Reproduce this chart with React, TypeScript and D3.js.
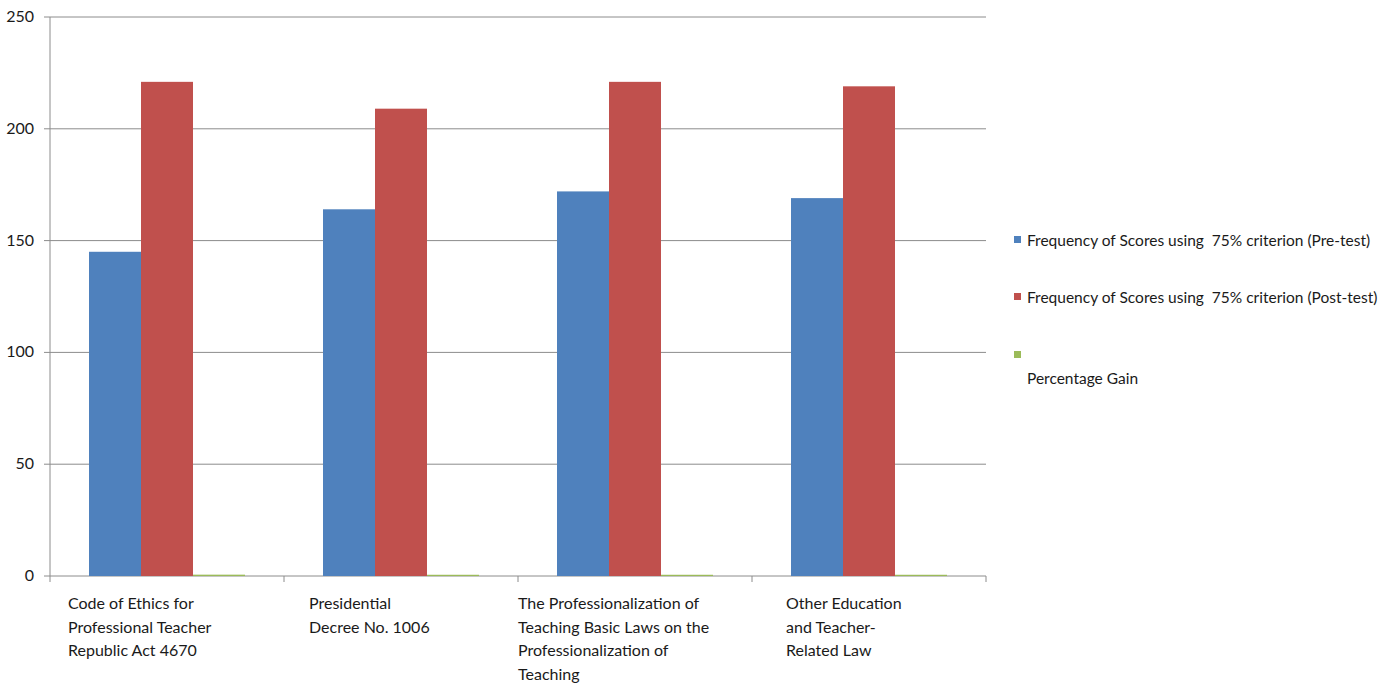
import React from "react";
import * as d3 from "d3";

const categories = [
  ["Code of Ethics for", "Professional Teacher", "Republic Act 4670"],
  ["Presidential", "Decree No. 1006"],
  ["The Professionalization of", "Teaching Basic Laws on the", "Professionalization of", "Teaching"],
  ["Other Education", "and Teacher-", "Related Law"],
];
const preTest = [145, 164, 172, 169];
const postTest = [221, 209, 221, 219];
const percentageGain = [0.6, 0.55, 0.55, 0.55];
const seriesNames = [
  "Frequency of Scores using  75% criterion (Pre-test)",
  "Frequency of Scores using  75% criterion (Post-test)",
  "Percentage Gain",
];
const yTicks = [0, 50, 100, 150, 200, 250];

const colors = ["#4F81BD", "#C0504D", "#9BBB59"];
const labelOffsets = [18, 25, 0, 34];
const FONT = "Lato, 'Open Sans', sans-serif";

export default function App() {
  const W = 1394, H = 684;
  const left = 50, right = 986, top = 17, bottom = 576;
  const x = d3.scaleBand<number>().domain(d3.range(categories.length)).range([left, right]).paddingInner(0).paddingOuter(0);
  const y = d3.scaleLinear().domain([0, 250]).range([bottom, top]);
  const series = [preTest, postTest, percentageGain];
  const bw = 52;
  const gw = x.bandwidth();
  const startOff = (gw - 3 * bw) / 2;

  return (
    <svg width={W} height={H} style={{ position: "absolute", left: 0, top: 0, background: "#fff" }} fontFamily={FONT}>
      {yTicks.map((t) => (
        <g key={t}>
          <line x1={left - 6} x2={right} y1={y(t)} y2={y(t)} stroke="#8c8c8c" strokeWidth={1} />
          <text x={34} y={y(t) + 5} textAnchor="end" fontSize={16} fill="#1a1a1a">{t}</text>
        </g>
      ))}
      <line x1={left} x2={left} y1={top} y2={bottom} stroke="#8c8c8c" />
      {d3.range(categories.length + 1).map((i) => {
        const xx = i < categories.length ? (x(i) as number) : right;
        return <line key={i} x1={xx} x2={xx} y1={bottom} y2={bottom + 6} stroke="#8c8c8c" />;
      })}
      {series.map((vals, s) =>
        vals.map((v, i) => {
          const bx = (x(i) as number) + startOff + s * bw;
          return (
            <rect key={`${s}-${i}`} x={bx} y={y(v)} width={bw} height={Math.max(bottom - y(v), 0)} fill={colors[s]} />
          );
        })
      )}
      {categories.map((lines, i) => (
        <text key={i} fontSize={16} fill="#1a1a1a">
          {lines.map((ln, j) => (
            <tspan key={j} x={(x(i) as number) + labelOffsets[i]} y={609 + j * 23.5}>{ln}</tspan>
          ))}
        </text>
      ))}
      {seriesNames.map((n, s) => {
        const sy = [236, 293, 351][s];
        return (
          <g key={s}>
            <rect x={1014} y={sy} width={7} height={7} fill={colors[s]} />
            <text x={1027} y={s === 2 ? 384 : sy + 10} fontSize={15.5} fill="#1a1a1a" style={{ whiteSpace: "pre" }}>{n}</text>
          </g>
        );
      })}
    </svg>
  );
}
